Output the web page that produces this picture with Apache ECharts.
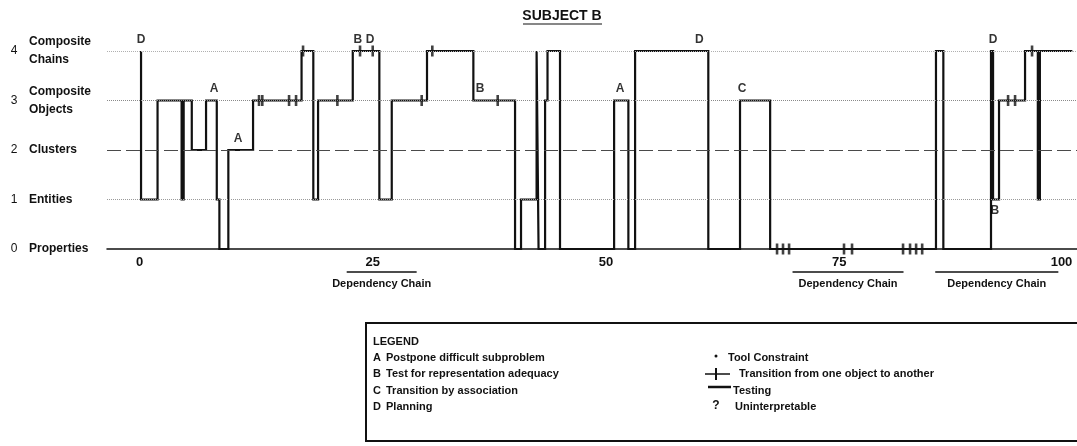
<!DOCTYPE html>
<html>
<head>
<meta charset="utf-8">
<script src="https://cdn.jsdelivr.net/npm/echarts@6/dist/echarts.min.js"></script>
<style>
  html, body { margin: 0; padding: 0; background: #fff; }
  #chart { width: 1077px; height: 446px; }
</style>
</head>
<body>
<div id="chart"></div>
<script>
// Abstraction levels on the vertical axis
const levelNumbers = ['0', '1', '2', '3', '4'];
const levelNames = ['Properties', 'Entities', 'Clusters', 'Composite\nObjects', 'Composite\nChains'];

// Protocol trace: episode position where the level changes, and the level reached
const changeX = [
  0.15, 0.15, 1.92, 4.50, 4.72, 5.59, 7.12, 8.27, 8.55, 9.51,
  12.16, 17.36, 18.62, 19.13, 22.85, 25.70, 27.03, 30.81, 35.78, 40.25,
  40.89, 42.56, 42.77, 43.47, 43.73, 45.07, 50.87, 52.40, 53.12, 60.97,
  64.37, 67.60, 85.38, 86.17, 91.28, 91.50, 92.14, 94.93, 96.30, 96.52,
  100.0
];
const changeLevel = [
  4, 1, 3, 1, 3, 2, 3, 1, 0, 2,
  3, 4, 1, 3, 4, 1, 3, 4, 3, 0,
  1, 4, 0, 3, 4, 0, 3, 0, 4, 0,
  3, 0, 4, 0, 4, 1, 3, 4, 1, 4,
  4
];

// Transitions from one object to another
const transitionX = [
  12.80, 13.15, 16.02, 16.77, 17.52, 21.20, 23.63, 24.99, 30.24, 31.38,
  38.39, 68.34, 68.98, 69.63, 75.52, 76.38, 81.85, 82.60, 83.25, 83.90,
  93.11, 93.86, 95.68
];
const transitionLevel = [
  3, 3, 3, 3, 4, 3, 4, 4, 3, 4,
  3, 0, 0, 0, 0, 0, 0, 0, 0, 0,
  3, 3, 4
];

// Strategy codes written next to the trace
const noteX = [0.15, 7.98, 10.55, 23.40, 24.70, 36.50, 51.50, 60.00, 64.60, 91.50, 91.70];
const noteLevel = [4, 3, 2, 4, 4, 3, 3, 4, 3, 4, 1];
const noteLetter = ['D', 'A', 'A', 'B', 'D', 'B', 'A', 'D', 'C', 'D', 'B'];
const noteBelow = [false, false, false, false, false, false, false, false, false, false, true];

// Horizontal axis
const xTicks = [0, 25, 50, 75, 100];

// Dependency chains (episode ranges)
const depChainStart = [22.2, 70.0, 85.3];
const depChainEnd = [29.7, 81.9, 98.5];

// Legend contents
const legendCodes = ['A', 'B', 'C', 'D'];
const legendMeanings = [
  'Postpone difficult subproblem',
  'Test for representation adequacy',
  'Transition by association',
  'Planning'
];
const symbolNotes = ['Tool Constraint', 'Transition from one object to another', 'Testing', 'Uninterpretable'];

const FONT = "'Liberation Sans', Arial, sans-serif";
const INK = '#111111';

const chart = echarts.init(document.getElementById('chart'), null, { renderer: 'canvas' });

const tracePoints = changeX.map((x, i) => [x, changeLevel[i]]);
const transitionPoints = transitionX.map((x, i) => [x, transitionLevel[i]]);
const notePoints = noteX.map((x, i) => ({
  value: [x, noteLevel[i]],
  label: { position: noteBelow[i] ? 'bottom' : 'top', formatter: noteLetter[i] }
}));

const dotted = (color) => ({ type: 'dotted', color: color, width: 1 });

chart.setOption({
  animation: false,
  backgroundColor: '#ffffff',
  grid: { left: 107, right: 0, top: 51, bottom: 197, outerBoundsMode: 'none', containLabel: false },
  xAxis: {
    type: 'value',
    min: -3.5,
    max: 100.5,
    axisLine: { show: true, lineStyle: { color: INK, width: 1.5 } },
    axisTick: { show: false },
    splitLine: { show: false },
    axisLabel: {
      customValues: xTicks,
      formatter: (v) => String(v),
      alignMaxLabel: 'right',
      margin: 7,
      color: INK,
      fontFamily: FONT,
      fontSize: 13,
      fontWeight: 'bold'
    }
  },
  yAxis: [
    {
      type: 'value', min: 0, max: 4, interval: 1, position: 'left',
      axisLine: { show: false }, axisTick: { show: false }, splitLine: { show: false },
      axisLabel: {
        formatter: (v) => levelNumbers[v],
        align: 'center', margin: 93,
        color: INK, fontFamily: FONT, fontSize: 12
      }
    },
    {
      type: 'value', min: 0, max: 4, interval: 1, position: 'left',
      axisLine: { show: false }, axisTick: { show: false }, splitLine: { show: false },
      axisLabel: {
        formatter: (v) => levelNames[v],
        align: 'left', margin: 78, lineHeight: 18,
        color: INK, fontFamily: FONT, fontSize: 12, fontWeight: 'bold'
      }
    }
  ],
  series: [
    {
      // level guide lines
      type: 'line',
      data: [],
      z: 1,
      markLine: {
        silent: true,
        symbol: ['none', 'none'],
        label: { show: false },
        animation: false,
        data: [
          { yAxis: 1, lineStyle: dotted('#9a9a9a') },
          { yAxis: 2, lineStyle: { type: [14, 5], color: '#4a4a4a', width: 1.2 } },
          { yAxis: 3, lineStyle: dotted('#8a8a8a') },
          { yAxis: 4, lineStyle: dotted('#b0b0b0') }
        ]
      }
    },
    {
      // the problem-solving trace
      type: 'line',
      data: tracePoints,
      step: 'end',
      symbol: 'none',
      z: 3,
      lineStyle: { color: INK, width: 2.2, cap: 'butt', join: 'miter' }
    },
    {
      type: 'scatter',
      data: transitionPoints,
      symbol: 'rect',
      symbolSize: [2.6, 11],
      z: 4,
      itemStyle: { color: INK }
    },
    {
      type: 'scatter',
      data: notePoints,
      symbolSize: 1,
      z: 5,
      itemStyle: { color: 'rgba(0,0,0,0)' },
      label: {
        show: true,
        distance: 5,
        color: '#000000',
        fontFamily: FONT,
        fontSize: 12,
        fontWeight: 'bold'
      }
    }
  ]
});

// Title, dependency-chain brackets and the legend box
const textStyle = (text, x, y, extra) => ({
  type: 'text', x: x, y: y,
  style: Object.assign({
    text: text, fill: INK, font: 'bold 11px ' + FONT,
    textAlign: 'left', textVerticalAlign: 'middle'
  }, extra || {})
});

const graphics = [];
graphics.push(textStyle('SUBJECT B', 562, 16, { textAlign: 'center', font: 'bold 14px ' + FONT }));
graphics.push({ type: 'line', shape: { x1: 523, y1: 24, x2: 602, y2: 24 }, style: { stroke: INK, lineWidth: 1.2 } });

depChainStart.forEach((s, i) => {
  const x1 = chart.convertToPixel({ gridIndex: 0 }, [s, 0])[0];
  const x2 = chart.convertToPixel({ gridIndex: 0 }, [depChainEnd[i], 0])[0];
  graphics.push({ type: 'line', shape: { x1: x1, y1: 272, x2: x2, y2: 272 }, style: { stroke: INK, lineWidth: 1.5 } });
  graphics.push(textStyle('Dependency Chain', (x1 + x2) / 2, 284, { textAlign: 'center' }));
});

graphics.push({
  type: 'rect',
  shape: { x: 366, y: 323, width: 760, height: 118 },
  style: { fill: 'none', stroke: INK, lineWidth: 2 }
});
graphics.push(textStyle('LEGEND', 373, 342));
legendCodes.forEach((c, i) => {
  const y = 358 + i * 16.4;
  graphics.push(textStyle(c, 373, y));
  graphics.push(textStyle(legendMeanings[i], 386, y));
});
// legend symbols
graphics.push({ type: 'circle', shape: { cx: 716, cy: 356, r: 1.5 }, style: { fill: INK } });
graphics.push({ type: 'line', shape: { x1: 705, y1: 374, x2: 730, y2: 374 }, style: { stroke: INK, lineWidth: 1.5 } });
graphics.push({ type: 'line', shape: { x1: 716, y1: 368, x2: 716, y2: 380 }, style: { stroke: INK, lineWidth: 2 } });
graphics.push({ type: 'line', shape: { x1: 708, y1: 387, x2: 731, y2: 387 }, style: { stroke: INK, lineWidth: 2.5 } });
graphics.push(textStyle('?', 716, 406, { textAlign: 'center', font: 'bold 12px ' + FONT }));
const symbolTextX = [728, 739, 733, 735];
symbolNotes.forEach((t, i) => {
  graphics.push(textStyle(t, symbolTextX[i], 358 + i * 16.4));
});

chart.setOption({ graphic: graphics });
</script>
</body>
</html>
